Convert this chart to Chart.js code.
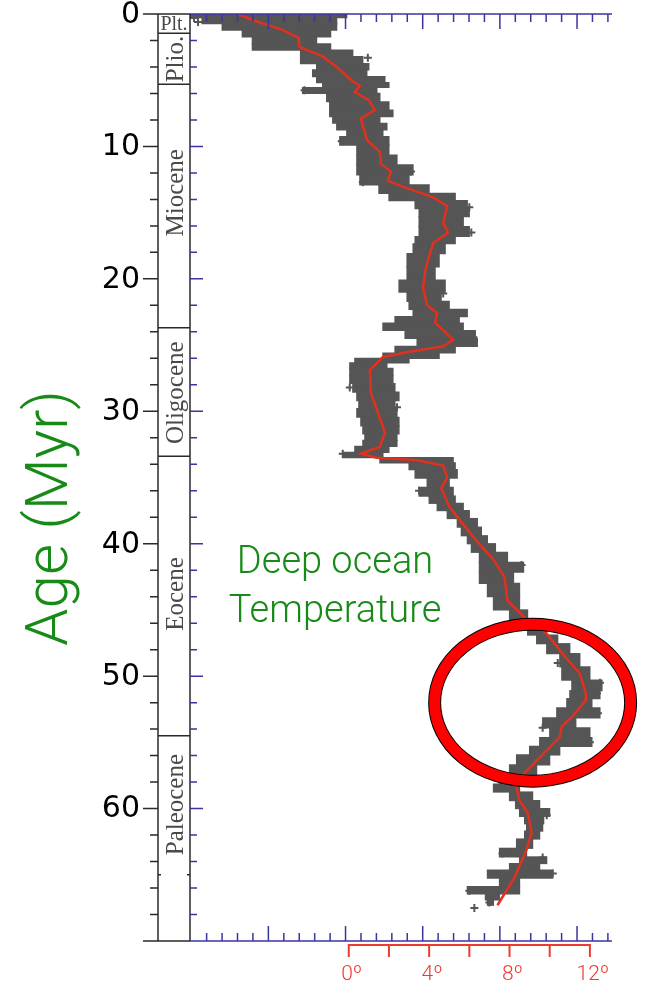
<!DOCTYPE html>
<html>
<head>
<meta charset="utf-8">
<script src="https://cdn.jsdelivr.net/npm/chart.js@4.4.1/dist/chart.umd.min.js"></script>
<style>
  html, body { margin: 0; padding: 0; background: #fff; }
</style>
</head>
<body>
<canvas id="myChart" width="648" height="985"></canvas>
<script>
// Axis labels
const ageTicks = [0, 10, 20, 30, 40, 50, 60];
const tempTicks = [0, 4, 8, 12];
const tempMinorTicks = [2, 6, 10];
const d18oMajor = [6, 5, 4, 3, 2, 1];

// Geological epochs (Myr)
const epochNames = ['Plt.', 'Plio.', 'Miocene', 'Oligocene', 'Eocene', 'Paleocene'];
const epochStart = [0, 1.45, 5.3, 23.7, 33.4, 54.5];
const epochEnd = [1.45, 5.3, 23.7, 33.4, 54.5, 65];
const epochLabelAge = [0.7, 3.4, 13.5, 28.6, 43.8, 59.7];

// Smoothed deep-ocean temperature (red curve)
const curveAge = [0, 0.45, 1.2, 1.8, 2.5, 3.2, 4.0, 5.1, 5.4, 5.9, 6.5, 7.0, 7.25, 7.9, 9.5, 10.4, 11.3, 11.9, 12.6, 13.2,
  13.85, 14.5, 15.8, 16.5, 17.3, 18.3, 19.4, 20.7, 22.0, 22.6, 23.3, 24.6, 25.1, 25.5, 25.9, 26.9, 28.6, 30.1, 31.6, 32.7,
  33.2, 33.5, 33.7, 34.1, 35.0, 35.8, 37.2, 39.5, 41.2, 42.5, 44.3, 45.5, 46.8, 48.6, 49.8, 51.3, 51.8, 53.1, 53.8, 54.6,
  55.6, 57.3, 58.4, 59.4, 60.3, 61.8, 63.1, 65.2, 67.3];
const curveTemp = [-5.5, -4.8, -3.3, -2.5, -2.45, -1.3, -0.6, 0.2, 0.55, 0.3, 1.0, 1.2, 1.3, 0.6, 0.9, 1.55, 1.6, 2.1, 1.95, 3.0,
  4.2, 4.9, 4.7, 4.95, 4.2, 4.0, 3.8, 3.7, 3.9, 4.4, 4.3, 5.2, 4.7, 3.0, 1.7, 1.05, 1.1, 1.45, 1.8, 1.55,
  0.6, 1.4, 3.4, 4.7, 4.9, 4.6, 5.0, 6.2, 7.2, 7.75, 7.9, 8.7, 9.85, 10.8, 11.5, 11.8, 11.8, 11.1, 10.6, 10.5,
  9.85, 8.75, 8.35, 8.5, 8.9, 9.1, 8.85, 8.25, 7.4];

// Spread of the individual measurements per age (grey cloud)
const cloudAge = [0.1, 0.45, 1.0, 1.45, 2.0, 2.5, 2.95, 3.5, 4.0, 4.45, 5.0, 5.35, 5.75, 6.25, 7.0, 7.5, 8.0, 8.5, 9.0, 9.5,
  10.3, 11.0, 11.8, 12.5, 13.3, 13.8, 14.4, 15.0, 15.6, 16.5, 17.1, 17.6, 18.6, 19.6, 20.6, 21.4, 22.0, 22.6, 23.1, 23.6,
  24.2, 24.8, 25.4, 25.8, 26.2, 26.5, 27.0, 27.6, 28.2, 28.9, 29.5, 30.1, 30.8, 31.4, 32.0, 32.4, 32.9, 33.3, 33.7, 34.1,
  34.7, 35.4, 36.1, 36.7, 37.2, 37.8, 38.4, 39.1, 39.7, 40.3, 41.0, 41.8, 42.5, 43.5, 44.5, 45.5, 46.0, 46.5, 47.3, 47.8,
  48.8, 49.8, 50.8, 51.4, 52.0, 52.8, 53.5, 54.3, 55.0, 55.6, 56.3, 57.1, 57.9, 58.4, 59.1, 59.7, 60.3, 60.9, 61.4, 62.0,
  62.6, 63.4, 63.9, 64.4, 64.9, 65.6, 66.2, 66.7, 67.1];
const cloudMin = [-7.9, -7.3, -6.3, -5.3, -4.8, -4.8, -2.4, -2.4, -1.6, -1.8, -1.6, -1.3, -2.3, -1.1, -0.95, -0.95, -0.8, -0.6, -0.1, -0.45,
  0.4, 0.4, 0.4, 0.55, 1.5, 2.0, 3.3, 3.5, 3.5, 3.5, 3.3, 3.2, 2.9, 2.9, 2.5, 2.9, 3.0, 3.2, 2.3, 1.7,
  2.8, 3.4, 2.3, 1.7, 0.3, 0.05, 0.05, 0.05, 0.2, 0.4, 0.5, 0.4, 0.6, 0.7, 0.8, 0.7, 0.3, -0.3, 1.55, 3.0,
  3.3, 3.9, 3.5, 4.0, 4.4, 4.9, 5.4, 5.6, 5.9, 6.1, 6.5, 6.5, 6.5, 6.9, 7.2, 8.0, 8.3, 8.9, 9.35, 9.85,
  10.5, 10.6, 11.1, 11.0, 10.85, 10.35, 9.65, 10.0, 9.5, 9.0, 8.35, 8.0, 7.5, 7.2, 8.0, 8.3, 8.5, 8.75, 8.85, 8.75,
  8.35, 7.5, 8.5, 8.0, 6.9, 7.5, 5.9, 6.8, 6.9];
const cloudMax = [-0.1, -0.6, -0.6, -0.9, -1.6, -0.9, 0.2, 0.7, 1.0, 0.9, 1.8, 2.0, 1.4, 1.55, 2.0, 2.2, 1.55, 1.9, 1.7, 2.0,
  2.0, 2.4, 3.2, 3.0, 4.0, 5.3, 5.9, 6.0, 5.7, 6.0, 5.3, 4.8, 4.5, 4.3, 4.8, 4.6, 5.0, 5.9, 5.5, 5.7,
  6.3, 6.4, 5.3, 4.5, 3.0, 1.9, 2.2, 2.2, 2.3, 2.5, 2.3, 2.4, 2.5, 2.5, 2.4, 2.4, 2.0, 1.7, 5.2, 5.3,
  5.4, 5.0, 5.2, 5.3, 5.7, 6.0, 6.4, 6.6, 6.9, 7.3, 7.9, 8.7, 8.2, 8.5, 8.5, 8.9, 9.3, 9.85, 10.4, 11.0,
  11.5, 12.0, 12.6, 12.5, 12.1, 12.5, 11.3, 12.0, 12.1, 10.5, 10.0, 9.35, 8.75, 8.5, 9.15, 9.5, 10.0, 9.7, 9.65, 9.5,
  9.15, 8.85, 9.85, 9.5, 10.15, 8.5, 8.5, 7.5, 7.2];

// Isolated measurements outside the dense cloud
const outlierAge = [0.3, 0.6, 3.3, 5.75, 9.6, 11.9, 12.7, 14.6, 16.5, 21.1, 24.4, 28.2, 29.7, 33.2, 33.9, 36.0,
  41.6, 49.0, 50.5, 51.3, 52.8, 53.9, 55.0, 60.5, 63.4, 63.7, 64.9, 66.2, 67.1, 67.5];
const outlierTemp = [-7.7, -7.5, 0.95, -2.2, -0.35, 3.1, 0.7, 6.0, 6.1, 4.7, 6.2, 0.05, 2.4, -0.3, 5.0, 3.5,
  8.6, 10.4, 12.5, 12.35, 12.4, 9.65, 12.0, 9.85, 7.65, 9.65, 10.15, 6.0, 7.0, 6.25];

// Isotope (d18O) scale along top and bottom: temperature = d18oZero - d18oSlope * d18O
const d18oZero = 15.2;
const d18oSlope = 3.84;

const blue = '#3b35a0';
const green = '#178a17';
const redAxis = '#ee3b30';

const decor = {
  id: 'decor',
  afterDatasetsDraw(chart) {
    const { ctx, scales: { x, y } } = chart;
    const xL = x.getPixelForValue(x.min);
    const xR = x.getPixelForValue(x.max);
    const yT = y.getPixelForValue(0);
    const yB = y.getPixelForValue(70);
    const colL = xL - 32;
    ctx.save();

    // epoch column and left ticks
    ctx.strokeStyle = '#2a2a2a';
    ctx.lineWidth = 1.5;
    ctx.beginPath();
    ctx.moveTo(colL, yT); ctx.lineTo(colL, yB);
    ctx.moveTo(xL, yT); ctx.lineTo(xL, yB);
    ctx.moveTo(colL - 15, yT); ctx.lineTo(xL, yT);
    ctx.moveTo(colL - 15, yB); ctx.lineTo(xL, yB);
    epochEnd.forEach((e, i) => {
      const py = y.getPixelForValue(e);
      if (i < epochEnd.length - 1) {
        ctx.moveTo(colL, py); ctx.lineTo(xL, py);
      } else {
        ctx.moveTo(colL, py); ctx.lineTo(colL + 3, py);
        ctx.moveTo(xL - 3, py); ctx.lineTo(xL, py);
      }
    });
    for (let a = 2; a < 70; a += 2) {
      const py = y.getPixelForValue(a);
      ctx.moveTo(colL - (a % 10 === 0 ? 15 : 8), py); ctx.lineTo(colL, py);
    }
    ctx.stroke();

    // blue ticks on the inner left edge
    ctx.strokeStyle = blue;
    ctx.beginPath();
    for (let a = 2; a < 70; a += 2) {
      const py = y.getPixelForValue(a);
      ctx.moveTo(xL, py); ctx.lineTo(xL + (a % 10 === 0 ? 13 : 7), py);
    }
    // blue isotope axes top and bottom
    ctx.moveTo(xL, yT); ctx.lineTo(xR, yT);
    ctx.moveTo(xL, yB); ctx.lineTo(xR, yB);
    for (let k = 60; k >= 6; k -= 2) {
      const d = k / 10;
      const px = x.getPixelForValue(d18oZero - d18oSlope * d);
      if (px < xL + 2 || px > xR) continue;
      const len = d18oMajor.includes(d) ? 15 : 8;
      ctx.moveTo(px, yT); ctx.lineTo(px, yT + len);
      ctx.moveTo(px, yB); ctx.lineTo(px, yB - len);
    }
    ctx.stroke();

    // red temperature axis
    const ry = yB + 4;
    ctx.strokeStyle = redAxis;
    ctx.lineWidth = 2;
    ctx.beginPath();
    ctx.moveTo(x.getPixelForValue(0), ry + 12);
    ctx.lineTo(x.getPixelForValue(0), ry);
    ctx.lineTo(x.getPixelForValue(12), ry);
    ctx.lineTo(x.getPixelForValue(12), ry + 12);
    tempTicks.concat(tempMinorTicks).forEach(t => {
      const px = x.getPixelForValue(t);
      ctx.moveTo(px, ry); ctx.lineTo(px, ry + 12);
    });
    ctx.stroke();
    ctx.fillStyle = redAxis;
    ctx.font = '300 21px Roboto, "Liberation Sans", sans-serif';
    ctx.textAlign = 'center';
    ctx.textBaseline = 'alphabetic';
    tempTicks.forEach(t => {
      ctx.fillText(t + '\u00ba', x.getPixelForValue(t) + 3, 980);
    });

    // age labels
    ctx.fillStyle = '#000';
    ctx.font = '30px "DejaVu Sans", sans-serif';
    ctx.textAlign = 'right';
    ctx.textBaseline = 'middle';
    ageTicks.forEach(a => ctx.fillText(String(a), colL - 18, y.getPixelForValue(a) + 1));

    // epoch labels
    ctx.fillStyle = '#4a4a4a';
    const cx = (colL + xL) / 2;
    epochNames.forEach((n, i) => {
      const py = y.getPixelForValue(epochLabelAge[i]);
      if (i === 0) {
        ctx.font = '20px "Liberation Serif", serif';
        ctx.textAlign = 'center';
        ctx.textBaseline = 'middle';
        ctx.fillText(n, cx, py + 1, 28);
        return;
      }
      ctx.save();
      ctx.translate(cx + 9, py);
      ctx.rotate(-Math.PI / 2);
      ctx.font = '25px "Liberation Serif", serif';
      ctx.textAlign = 'center';
      ctx.textBaseline = 'alphabetic';
      ctx.fillText(n, 0, 0);
      ctx.restore();
    });

    // axis title
    ctx.save();
    ctx.translate(67, 518);
    ctx.rotate(-Math.PI / 2);
    ctx.fillStyle = green;
    ctx.font = '300 60px Roboto, "Liberation Sans", sans-serif';
    ctx.textAlign = 'center';
    ctx.textBaseline = 'alphabetic';
    ctx.fillText('Age (Myr)', 0, 0);
    ctx.restore();

    // annotation text
    ctx.fillStyle = green;
    ctx.font = '300 38px Roboto, "Liberation Sans", sans-serif';
    ctx.textAlign = 'center';
    ctx.textBaseline = 'alphabetic';
    ctx.fillText('Deep ocean', 335, 573);
    ctx.fillText('Temperature', 335, 622);

    // highlight ellipse around the early Eocene maximum
    const ex = x.getPixelForValue(9.15);
    const ey = y.getPixelForValue(52);
    ctx.beginPath();
    ctx.ellipse(ex, ey, 98, 78.5, 0, 0, Math.PI * 2);
    ctx.strokeStyle = '#000';
    ctx.lineWidth = 13;
    ctx.stroke();
    ctx.strokeStyle = '#ff0000';
    ctx.lineWidth = 11;
    ctx.stroke();
    ctx.restore();
  }
};

const ctx = document.getElementById('myChart').getContext('2d');
const myChart = new Chart(ctx, {
  type: 'bar',
  data: {
    datasets: [
      {
        type: 'line',
        label: 'smoothed',
        data: curveAge.map((a, i) => ({ x: curveTemp[i], y: a })),
        borderColor: '#e2301f',
        borderWidth: 2.5,
        pointRadius: 0,
        tension: 0,
        fill: false,
        order: 0
      },
      {
        type: 'scatter',
        label: 'outliers',
        data: outlierAge.map((a, i) => ({ x: outlierTemp[i], y: a })),
        pointStyle: 'cross',
        pointRadius: 4,
        borderWidth: 2,
        borderColor: '#555',
        backgroundColor: '#555',
        order: 1
      },
      {
        type: 'bar',
        label: 'measurements',
        data: cloudAge.map((a, i) => ({ y: a, x: [cloudMin[i], cloudMax[i]] })),
        backgroundColor: '#555',
        borderWidth: 0,
        barThickness: 'flex',
        categoryPercentage: 1,
        barPercentage: 1,
        inflateAmount: 0.6,
        order: 2
      }
    ]
  },
  options: {
    indexAxis: 'y',
    responsive: false,
    devicePixelRatio: 1,
    animation: false,
    layout: { padding: { left: 190, top: 14, right: 36, bottom: 44 } },
    plugins: { legend: { display: false }, tooltip: { enabled: false } },
    scales: {
      x: { type: 'linear', min: -7.9, max: 13.1, display: false, offset: false },
      y: { type: 'linear', min: 0, max: 70, reverse: true, display: false, offset: false }
    }
  },
  plugins: [decor]
});
</script>
</body>
</html>
